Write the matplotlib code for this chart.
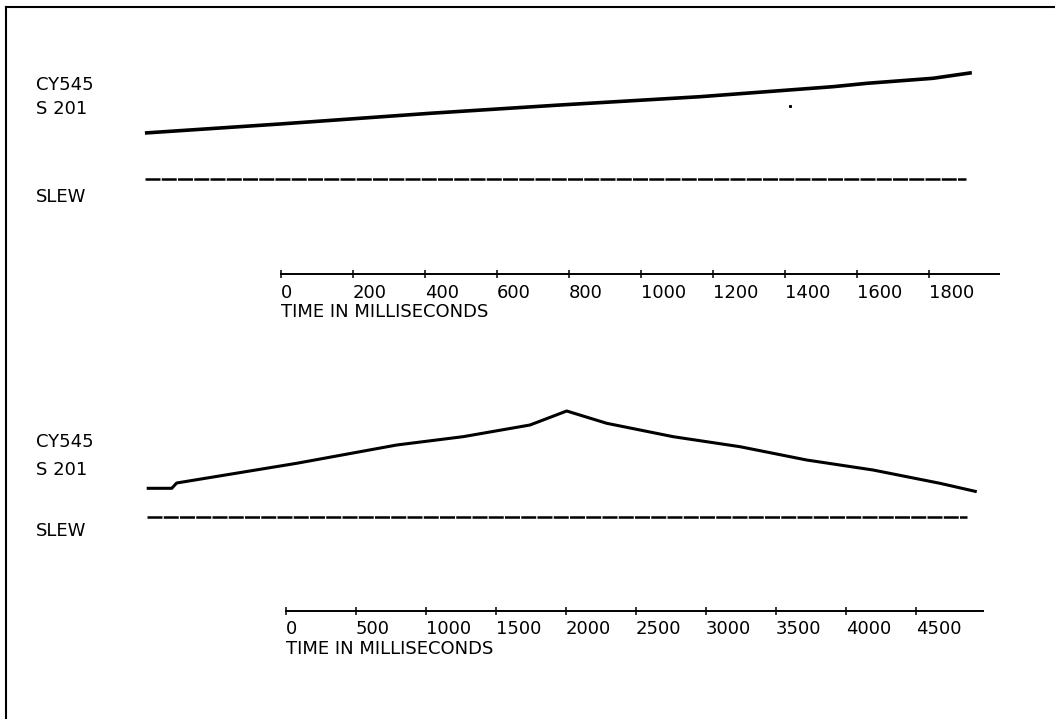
import matplotlib
matplotlib.use("Agg")
import matplotlib.pyplot as plt
from matplotlib.lines import Line2D
import numpy as np

plt.rcParams['font.family'] = ['DejaVu Sans']

# ---- data: top record (time in ms, signal level) ----
t1 = [-378, -3, 414, 775, 1164, 1533, 1628, 1811, 1919]
y1 = [141, 150, 160.7, 169, 177.3, 187.3, 190.7, 195.7, 201.3]
slew1_t = [-378, 1903]
slew1_y = [95, 95]
dot1_t = [1414]
dot1_y = [168]
ticks1 = [0, 200, 400, 600, 800, 1000, 1200, 1400, 1600, 1800]
axis1_end = 1995

# ---- data: bottom record ----
t2 = [-995, -816, -781, 76, 791, 1264, 1743, 2005, 2291, 2766, 3243, 3719, 4193, 4671, 4934]
y2 = [122.4, 122.4, 127.7, 147.4, 165.7, 174, 185.7, 199.7, 187.4, 174, 164, 150.7, 140.7, 127.4, 119]
slew2_t = [-995, 4864]
slew2_y = [93.4, 93.4]
ticks2 = [0, 500, 1000, 1500, 2000, 2500, 3000, 3500, 4000, 4500]
axis2_end = 4981

W, H = 1055, 719
FS = 13
fig = plt.figure(figsize=(W / 100, H / 100), dpi=100)

def panel(top_px, bot_px, zero_px, px_per_ms, base_px):
    # axes spans full width, vertical band [top_px, bot_px]
    ax = fig.add_axes([0, 1 - bot_px / H, 1, (bot_px - top_px) / H])
    ax.set_xlim(-zero_px / px_per_ms, (W - zero_px) / px_per_ms)
    ax.set_ylim(base_px - bot_px, base_px - top_px)
    ax.patch.set_visible(False)
    for s in ['top', 'left', 'right']:
        ax.spines[s].set_visible(False)
    ax.spines['bottom'].set_position(('data', 0))
    ax.spines['bottom'].set_linewidth(1.4)
    ax.set_yticks([])
    ax.tick_params(axis='x', direction='inout', length=6, width=1.1, pad=4,
                   labelsize=FS, colors='black')
    return ax

ax1 = panel(0, 360, 281, 0.36, 274)
ax1.plot(t1, y1, color='black', lw=2.6, solid_capstyle='butt')
ax1.plot(slew1_t, slew1_y, color='black', lw=1.8, ls=(0, (6, 0.5)))
ax1.plot(dot1_t, dot1_y, 's', color='black', ms=1.2)
ax1.spines['bottom'].set_bounds(0, axis1_end)
ax1.set_xticks(ticks1)
for lbl in ax1.get_xticklabels():
    lbl.set_ha('left')
ax1.text(0, -38, 'TIME IN MILLISECONDS', fontsize=FS, ha='left', va='center')

ax2 = panel(360, 719, 286, 0.14, 610.7)
ax2.plot(t2, y2, color='black', lw=2.2, solid_capstyle='butt')
ax2.plot(slew2_t, slew2_y, color='black', lw=1.8, ls=(0, (6, 0.5)))
ax2.spines['bottom'].set_bounds(0, axis2_end)
ax2.set_xticks(ticks2)
for lbl in ax2.get_xticklabels():
    lbl.set_ha('left')
ax2.text(0, -38, 'TIME IN MILLISECONDS', fontsize=FS, ha='left', va='center')

# channel labels
for y_px, txt in [(85, 'CY545'), (109, 'S 201'), (197, 'SLEW'),
                  (442, 'CY545'), (470, 'S 201'), (531, 'SLEW')]:
    fig.text(36 / W, 1 - y_px / H, txt, fontsize=FS, ha='left', va='center')

# frame lines (top and left)
fig.add_artist(Line2D([6 / W, 1], [1 - 7 / H, 1 - 7 / H], color='black', lw=1.5))
fig.add_artist(Line2D([6 / W, 6 / W], [1 - 7 / H, 0], color='black', lw=1.5))

fig.savefig('out.png', dpi=100)
